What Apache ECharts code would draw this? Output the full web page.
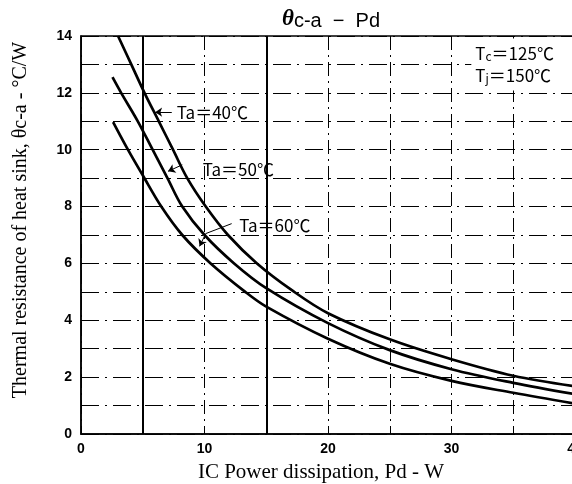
<!DOCTYPE html>
<html><head><meta charset="utf-8">
<script src="https://cdn.jsdelivr.net/npm/echarts@6/dist/echarts.min.js"></script>
<style>html,body{margin:0;padding:0;background:#fff}#c{width:572px;height:484px}</style>
</head><body><div id="c"></div>
<script>
// Data
const pd40 = [3.0, 4.07, 5.14, 6.3, 7.45, 8.6, 10.1, 11.9, 14.25, 17.1, 20, 25, 30, 35, 40];
const th40 = [14.0, 13.0, 12.0, 11.0, 10.0, 9.0, 8.0, 7.0, 6.0, 5.05, 4.25, 3.33, 2.63, 2.05, 1.68];
const pd50 = [2.55, 3.25, 4.6, 5.8, 7.0, 8.2, 10, 12.4, 15, 20, 25, 30, 35, 40];
const th50 = [12.55, 12.0, 11.0, 10.0, 9.0, 8.0, 7.0, 6.0, 5.13, 3.9, 2.95, 2.28, 1.8, 1.4];
const pd60 = [2.6, 3.8, 5, 6.5, 8.2, 10.5, 13.3, 15, 20, 25, 30, 35, 40];
const th60 = [10.97, 10.0, 9.1, 8.0, 7.0, 6.0, 5.0, 4.48, 3.35, 2.47, 1.87, 1.45, 1.07];
const xTickLabels = [0, 10, 20, 30, 40];
const yTickLabels = [0, 2, 4, 6, 8, 10, 12, 14];
const seriesNames = ['Ta＝40℃', 'Ta＝50℃', 'Ta＝60℃'];
const solidGridX = [5, 15];

const zip = (a, b) => a.map((v, i) => [v, b[i]]);
const curveStyle = { color: '#000', width: 2.7 };
const labelFont = { fontFamily: 'Noto Sans CJK JP', fontSize: 17, color: '#000' };
const SMOOTH = 0.35;

function textPoint(coord, text) {
  return { coord, symbol: 'circle', symbolSize: 0.1,
    label: { show: true, position: 'right', distance: 0, formatter: text, ...labelFont } };
}

const chart = echarts.init(document.getElementById('c'), null, { renderer: 'canvas' });
chart.setOption({
  animation: false,
  backgroundColor: '#fff',
  title: {
    text: '{t|θ}{s|c-a  −  Pd}', left: 326, top: 3, textAlign: 'center',
    textStyle: { rich: {
      t: { fontFamily: 'Liberation Serif', fontStyle: 'italic', fontSize: 23, color: '#000' },
      s: { fontFamily: 'Liberation Sans', fontWeight: 'normal', fontSize: 20, color: '#000', padding: [3, 0, 0, 0] }
    } }
  },
  grid: { left: 81, right: -3, top: 36, bottom: 50, outerBoundsMode: 'none', containLabel: false,
    show: true, borderColor: '#000', borderWidth: 1.5, backgroundColor: 'transparent' },
  xAxis: {
    type: 'value', min: 0, max: 40, interval: 5,
    name: 'IC Power dissipation, Pd - W', nameLocation: 'middle', nameGap: 28,
    nameTextStyle: { fontFamily: 'Liberation Serif', fontSize: 21, color: '#000', padding: [0, 14, 0, 0] },
    axisLine: { lineStyle: { color: '#000', width: 1.5 } },
    axisTick: { show: false },
    axisLabel: { margin: 8, fontFamily: 'Liberation Sans', fontWeight: 'bold', fontSize: 14, color: '#000',
      formatter: v => xTickLabels.includes(v) ? String(v) : '' },
    splitLine: { show: true, lineStyle: { color: '#000', width: 1, type: [14, 5, 2, 5] } }
  },
  yAxis: {
    type: 'value', min: 0, max: 14, interval: 1,
    name: 'Thermal resistance of heat sink, θc-a - °C/W', nameLocation: 'middle', nameGap: 50,
    nameTextStyle: { fontFamily: 'Liberation Serif', fontSize: 20, color: '#000', padding: [0, 0, 0, 30] },
    axisLine: { lineStyle: { color: '#000', width: 1.5 } },
    axisTick: { show: false },
    axisLabel: { margin: 9, fontFamily: 'Liberation Sans', fontWeight: 'bold', fontSize: 14, color: '#000',
      formatter: v => yTickLabels.includes(v) ? String(v) : '' },
    splitLine: { show: true, lineStyle: { color: '#000', width: 1, type: [18, 6, 2, 6] } }
  },
  series: [
    { name: seriesNames[0], type: 'line', data: zip(pd40, th40), smooth: SMOOTH, showSymbol: false, lineStyle: curveStyle,
      markLine: { silent: true, symbol: 'none', label: { show: false },
        lineStyle: { color: '#000', width: 2, type: 'solid' },
        data: solidGridX.map(v => ({ xAxis: v })) },
      markPoint: { data: [textPoint([7.75, 11.32], seriesNames[0])] } },
    { name: seriesNames[1], type: 'line', data: zip(pd50, th50), smooth: SMOOTH, showSymbol: false, lineStyle: curveStyle,
      markPoint: { data: [textPoint([9.85, 9.3], seriesNames[1])] } },
    { name: seriesNames[2], type: 'line', data: zip(pd60, th60), smooth: SMOOTH, showSymbol: false, lineStyle: curveStyle,
      markPoint: { data: [
        textPoint([12.8, 7.35], seriesNames[2]),
        { coord: [31.6, 13.0], symbol: 'circle', symbolSize: 0.1,
          label: { show: true, position: 'right', distance: 0, backgroundColor: '#fff', padding: [4, 20, 4, 4], lineHeight: 22,
            formatter: 'T{s|c}＝125℃\nT{s|j}＝150℃',
            fontFamily: 'Noto Sans CJK JP', fontSize: 17, color: '#000',
            rich: { s: { fontFamily: 'Noto Sans CJK JP', fontSize: 12, color: '#000', padding: [6, 0, 0, 0] } } } }
      ] },
      markLine: { silent: true, label: { show: false }, symbol: ['none', 'arrow'], symbolSize: 7,
        lineStyle: { color: '#000', width: 1, type: 'solid' },
        data: [
          [{ coord: [7.35, 11.32] }, { coord: [6.0, 11.32] }],
          [{ coord: [8.2, 9.47] }, { coord: [7.05, 9.24] }],
          [{ coord: [12.2, 7.4], symbol: 'none' }, { coord: [10.1, 7.05], symbol: 'none' }],
          [{ coord: [10.1, 7.05] }, { coord: [9.6, 6.6] }]
        ] } }
  ]
});
</script></body></html>
